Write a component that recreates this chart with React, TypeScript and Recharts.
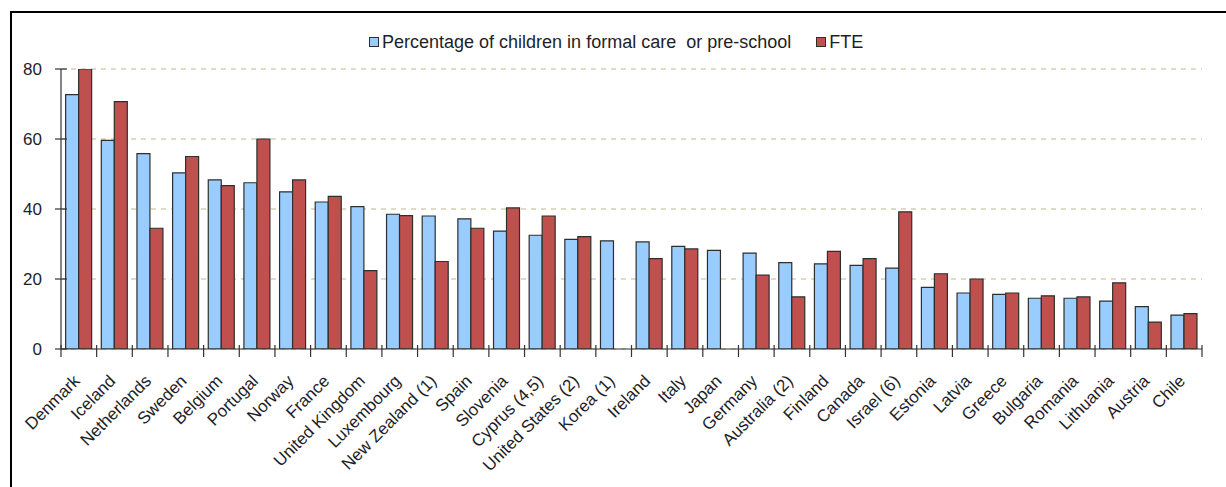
import { Bar, BarChart, CartesianGrid, XAxis, YAxis } from "recharts";

const countries = [
  "Denmark", "Iceland", "Netherlands", "Sweden", "Belgium", "Portugal", "Norway", "France",
  "United Kingdom", "Luxembourg", "New Zealand (1)", "Spain", "Slovenia", "Cyprus (4,5)",
  "United States (2)", "Korea (1)", "Ireland", "Italy", "Japan", "Germany", "Australia (2)",
  "Finland", "Canada", "Israel (6)", "Estonia", "Latvia", "Greece", "Bulgaria", "Romania",
  "Lithuania", "Austria", "Chile",
];
const careShare = [
  72.7, 59.6, 55.8, 50.3, 48.3, 47.5, 44.9, 42.0, 40.7, 38.5, 38.0, 37.2, 33.7, 32.5, 31.3, 30.9,
  30.6, 29.3, 28.2, 27.4, 24.7, 24.3, 23.9, 23.1, 17.6, 16.0, 15.6, 14.5, 14.5, 13.7, 12.1, 9.7,
];
const fteShare = [
  80, 70.7, 34.5, 55.0, 46.7, 60.0, 48.3, 43.6, 22.4, 38.1, 25.0, 34.5, 40.3, 38.0, 32.1, null,
  25.8, 28.6, null, 21.1, 14.9, 27.9, 25.8, 39.2, 21.5, 20.0, 16.0, 15.2, 14.9, 18.9, 7.7, 10.1,
];
const yTicks = [0, 20, 40, 60, 80];

const data = countries.map((name, i) => ({ name, care: careShare[i], fte: fteShare[i] }));

const W = 1226;
const H = 487;
const LEFT = 61;
const RIGHT = 24;
const TOP = 69;
const X_AXIS_H = 138;
const BAND = (W - LEFT - RIGHT) / countries.length;

const BLUE = "#99ccff";
const RED = "#c0504d";
const OUTLINE = "#2e2e2e";
const TEXT = "#1e1e28";
const FONT = "'Liberation Sans', Arial, sans-serif";

// Excel-style cross ticks sit on the category boundaries, labels slanted under the centre
function CountryTick(props: any) {
  const { x, y, payload, index } = props;
  const left = x - BAND / 2;
  const ax = x + 2;
  const ay = y + 31;
  return (
    <g>
      <line x1={left} x2={left} y1={y - 6} y2={y + 6} stroke="#333" strokeWidth={1.2} />
      {index === countries.length - 1 && (
        <line x1={x + BAND / 2} x2={x + BAND / 2} y1={y - 6} y2={y + 6} stroke="#333" strokeWidth={1.2} />
      )}
      <text
        x={ax}
        y={ay}
        textAnchor="end"
        transform={`rotate(-45 ${ax} ${ay})`}
        fontSize={17}
        fontFamily={FONT}
        fill={TEXT}
      >
        {payload.value}
      </text>
    </g>
  );
}

function ValueTick(props: any) {
  const { y, payload } = props;
  return (
    <g>
      <line x1={LEFT - 6} x2={LEFT + 6} y1={y} y2={y} stroke="#333" strokeWidth={1.2} />
      <text x={42} y={y} dy="0.36em" textAnchor="end" fontSize={17} fontFamily={FONT} fill={TEXT}>
        {payload.value}
      </text>
    </g>
  );
}

function LegendSwatch({ color }: { color: string }) {
  return (
    <span
      style={{
        display: "inline-block",
        width: 8,
        height: 8,
        background: color,
        border: `1.5px solid ${OUTLINE}`,
        marginRight: 3,
      }}
    />
  );
}

export default function App() {
  return (
    <div style={{ position: "absolute", left: 0, top: 0, width: W, height: H, background: "#fff", overflow: "hidden" }}>
      <div
        style={{
          position: "absolute",
          left: 10,
          top: 11,
          width: W,
          height: H,
          borderLeft: "2px solid #000",
          borderTop: "2px solid #000",
        }}
      />
      <div
        style={{
          position: "absolute",
          left: 369,
          top: 32,
          display: "flex",
          alignItems: "center",
          fontFamily: FONT,
          fontSize: 18,
          color: TEXT,
          lineHeight: "20px",
          whiteSpace: "pre",
        }}
      >
        <LegendSwatch color={BLUE} />
        <span>Percentage of children in formal care  or pre-school</span>
        <span style={{ width: 25 }} />
        <LegendSwatch color={RED} />
        <span>FTE</span>
      </div>
      <div style={{ position: "absolute", left: 0, top: 0 }}>
        <BarChart
          width={W}
          height={H}
          data={data}
          margin={{ top: TOP, right: RIGHT, bottom: 0, left: 0 }}
          barCategoryGap="13%"
          barGap={0}
        >
          <CartesianGrid vertical={false} stroke="#d5cfb1" strokeWidth={1.5} strokeDasharray="5 5" />
          <XAxis
            dataKey="name"
            height={X_AXIS_H}
            interval={0}
            tickSize={0}
            tickLine={false}
            axisLine={{ stroke: "#333", strokeWidth: 1.2 }}
            tick={<CountryTick />}
          />
          <YAxis
            width={LEFT}
            domain={[0, 80]}
            ticks={yTicks}
            allowDataOverflow
            tickSize={0}
            tickLine={false}
            axisLine={{ stroke: "#333", strokeWidth: 1.2 }}
            tick={<ValueTick />}
          />
          <Bar dataKey="care" fill={BLUE} stroke={OUTLINE} strokeWidth={1.2} isAnimationActive={false} />
          <Bar dataKey="fte" fill={RED} stroke={OUTLINE} strokeWidth={1.2} isAnimationActive={false} />
        </BarChart>
      </div>
    </div>
  );
}
